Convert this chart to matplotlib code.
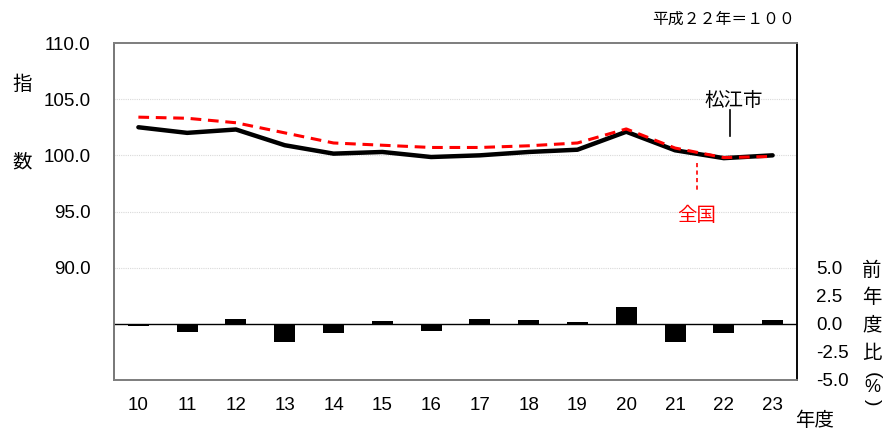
import matplotlib.pyplot as plt

plt.rcParams['font.family'] = ['Liberation Sans', 'Noto Sans CJK JP', 'DejaVu Sans']

# fiscal years (Heisei)
years = ['10', '11', '12', '13', '14', '15', '16', '17', '18', '19', '20', '21', '22', '23']
# index, Heisei 22 = 100
matsue = [102.5, 102.0, 102.3, 100.9, 100.15, 100.3, 99.85, 100.0, 100.3, 100.5, 102.1, 100.45, 99.75, 100.0]
zenkoku = [103.4, 103.3, 102.9, 102.0, 101.1, 100.9, 100.7, 100.7, 100.85, 101.1, 102.35, 100.65, 99.8, 99.9]
# change from previous year (%)
change = [-0.2, -0.7, 0.45, -1.6, -0.85, 0.25, -0.65, 0.4, 0.3, 0.2, 1.5, -1.65, -0.85, 0.3]

x = list(range(len(years)))
jp = ['Noto Sans CJK JP', 'DejaVu Sans']
W, H = 884, 430

fig = plt.figure(figsize=(8.84, 4.30), dpi=100)
ax = fig.add_axes([114 / W, 1 - 380 / H, 683 / W, 337 / H])
ax2 = ax.twinx()

# index lines
ax.plot(x, matsue, color='black', lw=3.2, solid_capstyle='round', zorder=3)
ax.plot(x, zenkoku, color='red', lw=2.2, dashes=(3.5, 2.2), zorder=4)
ax.set_ylim(80, 110)
ax.set_yticks([90, 95, 100, 105, 110])
ax.set_yticklabels([f'{v:.1f}' for v in [90, 95, 100, 105, 110]])
ax.set_xlim(-0.5, len(years) - 0.5)
ax.set_xticks(x)
ax.set_xticklabels(years)
for g in [90, 95, 100, 105]:
    ax.axhline(g, color='#d9d9d9', lw=0.8, ls=(0, (1, 1)), zorder=0)
ax.tick_params(axis='y', length=0, pad=17, labelsize=13.5)
ax.tick_params(axis='x', length=0, pad=12.5, labelsize=13.5)

# change bars
ax2.bar(x, change, width=0.43, color='black', zorder=3)
ax2.axhline(0, color='black', lw=1)
ax2.set_ylim(-5, 25)
ax2.set_yticks([-5, -2.5, 0, 2.5, 5])
ax2.set_yticklabels(['-5.0', '-2.5', '0.0', '2.5', '5.0'])
ax2.tick_params(axis='y', length=0, pad=14, labelsize=13.5)

for a in (ax, ax2):
    for s in a.spines.values():
        s.set_color('#7f7f7f')
        s.set_linewidth(1.3)
ax2.spines['right'].set_color('black')
ax.spines['left'].set_color('#404040')

# labels
fig.text(22 / W, 1 - 84 / H, '指', family=jp, fontsize=14, ha='center', va='center')
fig.text(22 / W, 1 - 162 / H, '数', family=jp, fontsize=14, ha='center', va='center')
fig.text(724 / W, 1 - 19 / H, '平成２２年＝１００', family=jp, fontsize=11.4, ha='center', va='center')
fig.text(815 / W, 1 - 420 / H, '年度', family=jp, fontsize=14, ha='center', va='center')
for i, ch in enumerate(['前', '年', '度', '比']):
    fig.text(872 / W, 1 - (270 + i * 27.7) / H, ch, family=jp, fontsize=14, ha='center', va='center')
fig.text(872 / W, 1 - 375 / H, '(', fontsize=14, rotation=-90, ha='center', va='center')
fig.text(872 / W, 1 - 387 / H, '%', fontsize=13, ha='center', va='center')
fig.text(872 / W, 1 - 402 / H, ')', fontsize=14, rotation=-90, ha='center', va='center')

# series callouts
ax.text(12.2, 104.9, '松江市', family=jp, fontsize=14, ha='center', va='center')
ax.plot([12.13, 12.13], [104.0, 101.7], color='black', lw=1.2)
ax.text(11.45, 94.6, '全国', family=jp, fontsize=14, color='red', ha='center', va='center')
ax.plot([11.45, 11.45], [99.3, 96.9], color='red', lw=1.2, dashes=(2.5, 2))

fig.savefig('out.png', dpi=100)
